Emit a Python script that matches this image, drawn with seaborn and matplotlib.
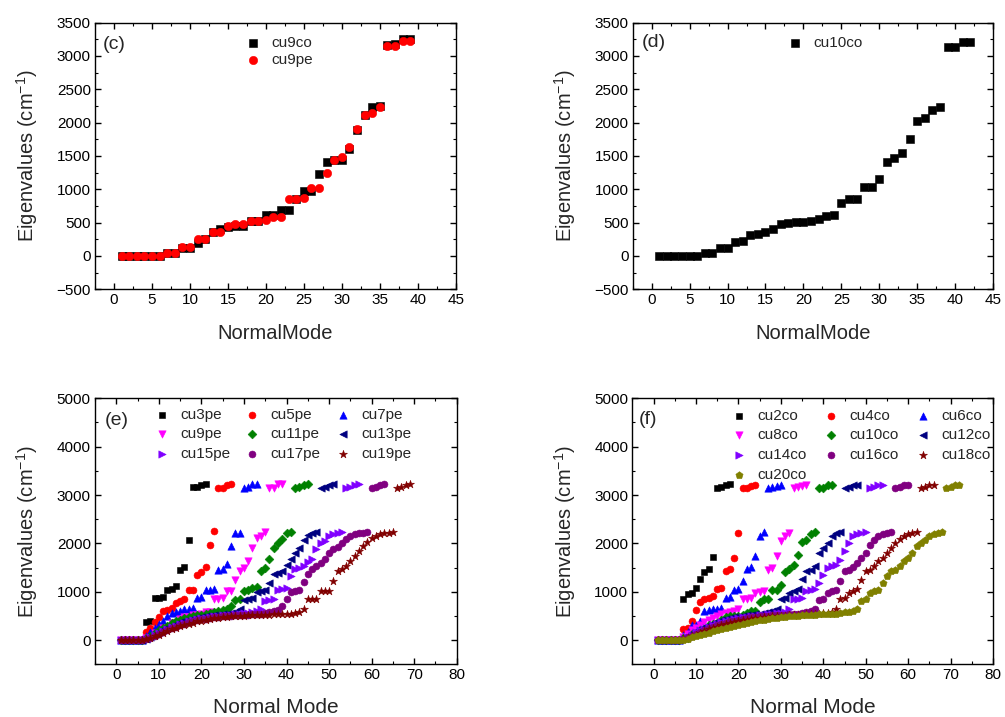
import matplotlib
matplotlib.use("Agg")
import matplotlib.pyplot as plt
import numpy as np
import pandas as pd
import seaborn as sns
from matplotlib.ticker import MultipleLocator

# ---------------- data (eigenvalues in cm^-1, indexed by normal mode 1..N) ----------------
cu9co = [0, 0, 0, 0, 0, 0, 40, 40, 125, 125, 200, 249, 364, 409, 439, 449, 449, 524, 524, 608,
         608, 688, 688, 858, 972, 972, 1232, 1406, 1436, 1436, 1605, 1885, 2109, 2234, 2254,
         3166, 3176, 3251, 3251]
cu9pe = [0, 0, 0, 0, 0, 0, 50, 50, 140, 140, 249, 249, 359, 359, 444, 474, 474, 524, 524, 534,
         588, 588, 848, 858, 868, 1022, 1022, 1242, 1436, 1481, 1630, 1910, 2109, 2149, 2234,
         3146, 3146, 3221, 3221]
cu10co = [0, 0, 0, 0, 0, 0, 50, 50, 120, 120, 214, 224, 314, 324, 364, 409, 474, 489, 509, 509,
          524, 558, 593, 608, 798, 858, 858, 1032, 1032, 1147, 1406, 1471, 1546, 1760, 2029,
          2064, 2194, 2229, 3141, 3141, 3216, 3216]

cu3pe = [0, 0, 0, 0, 0, 0, 380, 385, 865, 875, 885, 1040, 1060, 1115, 1460, 1515, 2060,
         3160, 3165, 3215, 3225]
cu5pe = [0, 0, 0, 0, 0, 0, 170, 250, 365, 480, 600, 615, 670, 760, 800, 860, 1035, 1040, 1340,
         1400, 1520, 1975, 2250, 3140, 3150, 3200, 3225]
cu7pe = [0, 0, 0, 0, 0, 0, 80, 160, 260, 330, 390, 500, 560, 580, 600, 640, 650, 660, 870, 890,
         1040, 1045, 1065, 1450, 1470, 1580, 1945, 2215, 2225, 3155, 3175, 3225, 3230]
cu11pe = [0, 0, 0, 0, 0, 0, 40, 90, 150, 200, 260, 300, 350, 390, 420, 450, 470, 490, 510, 520,
          540, 560, 580, 600, 620, 650, 710, 830, 850, 1015, 1035, 1085, 1100, 1430, 1500, 1670,
          1895, 2010, 2100, 2220, 2235, 3150, 3160, 3210, 3225]
cu13pe = [0, 0, 0, 0, 0, 0, 30, 70, 120, 170, 220, 260, 300, 340, 370, 400, 420, 440, 460, 480,
          490, 500, 510, 520, 535, 550, 565, 590, 640, 830, 845, 865, 985, 1015, 1040, 1190, 1360,
          1395, 1430, 1545, 1670, 1805, 1910, 2080, 2165, 2205, 2235, 3150, 3165, 3210, 3225]
cu15pe = [0, 0, 0, 0, 0, 0, 25, 60, 100, 150, 190, 230, 270, 300, 330, 360, 385, 410, 430, 450,
          465, 480, 490, 500, 510, 515, 525, 535, 545, 555, 565, 580, 600, 640, 810, 830, 860,
          1035, 1050, 1085, 1330, 1465, 1500, 1530, 1615, 1670, 1875, 2010, 2050, 2150, 2190,
          2210, 2228, 3150, 3160, 3205, 3220]
cu17pe = [0, 0, 0, 0, 0, 0, 20, 50, 90, 130, 170, 210, 245, 280, 310, 340, 365, 390, 410, 430,
          445, 460, 475, 485, 495, 500, 505, 510, 515, 520, 525, 530, 540, 550, 560, 580, 600,
          620, 710, 845, 985, 1020, 1040, 1200, 1375, 1465, 1530, 1600, 1670, 1805, 1875, 1930,
          2010, 2095, 2150, 2185, 2205, 2220, 2232, 3150, 3160, 3205, 3220]
cu19pe = [0, 0, 0, 0, 0, 0, 15, 40, 75, 110, 150, 185, 220, 255, 285, 310, 340, 360, 385, 405,
          420, 435, 450, 460, 470, 480, 490, 495, 500, 505, 510, 512, 515, 518, 520, 525, 530,
          535, 540, 545, 550, 560, 590, 640, 845, 850, 860, 1010, 1015, 1020, 1220, 1430, 1465,
          1530, 1635, 1740, 1840, 1945, 2030, 2110, 2150, 2190, 2210, 2225, 2232,
          3150, 3160, 3205, 3225]

cu2co = [0, 0, 0, 0, 0, 0, 840, 945, 980, 1070, 1255, 1405, 1480, 1715, 3155, 3170, 3205, 3235]
cu4co = [0, 0, 0, 0, 0, 0, 240, 260, 400, 620, 780, 845, 880, 910, 1050, 1085, 1430, 1475, 1700,
         2225, 3140, 3155, 3185, 3205]
cu6co = [0, 0, 0, 0, 0, 0, 100, 160, 310, 320, 400, 600, 620, 640, 650, 670, 880, 900, 1035,
         1050, 1220, 1475, 1515, 1735, 2150, 2245, 3150, 3165, 3195, 3205]
cu8co = [0, 0, 0, 0, 0, 0, 60, 120, 200, 260, 320, 380, 420, 460, 500, 540, 560, 580, 600, 640,
         840, 860, 880, 980, 995, 1015, 1445, 1495, 1735, 2050, 2150, 2210, 3145, 3160, 3195, 3210]
cu12co = [0, 0, 0, 0, 0, 0, 40, 90, 140, 190, 240, 280, 320, 350, 380, 410, 430, 450, 470, 485,
          500, 510, 520, 530, 540, 555, 575, 600, 640, 845, 880, 980, 1015, 1050, 1255, 1425,
          1460, 1530, 1800, 1900, 2010, 2160, 2215, 2230, 3145, 3160, 3200, 3215]
cu14co = [0, 0, 0, 0, 0, 0, 30, 70, 110, 160, 200, 240, 280, 310, 340, 370, 395, 420, 440, 455,
          470, 485, 495, 505, 515, 525, 535, 545, 555, 570, 590, 637, 842, 856, 877, 1014, 1034,
          1048, 1185, 1356, 1493, 1527, 1562, 1664, 1836, 2007, 2144, 2199, 2212, 2226,
          3145, 3160, 3200, 3215]
cu16co = [0, 0, 0, 0, 0, 0, 25, 55, 95, 135, 175, 210, 245, 280, 310, 335, 360, 385, 405, 425,
          440, 455, 470, 480, 490, 500, 505, 510, 515, 520, 525, 530, 540, 550, 560, 575, 600,
          637, 829, 842, 979, 1014, 1034, 1219, 1430, 1459, 1514, 1596, 1699, 1801, 1973, 2075,
          2150, 2199, 2212, 2226, 3145, 3160, 3200, 3215]
cu18co = [0, 0, 0, 0, 0, 0, 20, 45, 80, 115, 150, 185, 220, 250, 280, 305, 330, 355, 375, 395,
          410, 425, 440, 450, 460, 470, 480, 490, 495, 500, 505, 510, 515, 520, 525, 530, 535,
          540, 545, 555, 570, 590, 637, 842, 880, 979, 1014, 1048, 1253, 1420, 1459, 1527, 1630,
          1699, 1801, 1904, 2007, 2090, 2150, 2190, 2212, 2226, 3145, 3160, 3200, 3215]
cu20co = [0, 0, 0, 0, 0, 0, 10, 30, 55, 80, 105, 130, 155, 180, 205, 230, 255, 280, 300, 320,
          340, 360, 380, 395, 410, 425, 440, 455, 465, 475, 485, 495, 500, 505, 510, 515, 520,
          525, 530, 535, 540, 545, 550, 560, 575, 590, 603, 637, 808, 842, 979, 1014, 1034, 1185,
          1322, 1425, 1459, 1527, 1630, 1700, 1801, 1938, 2007, 2075, 2144, 2199, 2212, 2226,
          3145, 3160, 3200, 3215]

panel_c = [("cu9co", cu9co), ("cu9pe", cu9pe)]
panel_d = [("cu10co", cu10co)]
panel_e = [("cu3pe", cu3pe), ("cu5pe", cu5pe), ("cu7pe", cu7pe), ("cu9pe", cu9pe),
           ("cu11pe", cu11pe), ("cu13pe", cu13pe), ("cu15pe", cu15pe), ("cu17pe", cu17pe),
           ("cu19pe", cu19pe)]
panel_f = [("cu2co", cu2co), ("cu4co", cu4co), ("cu6co", cu6co), ("cu8co", cu8co),
           ("cu10co", cu10co), ("cu12co", cu12co), ("cu14co", cu14co), ("cu16co", cu16co),
           ("cu18co", cu18co), ("cu20co", cu20co)]

# ---------------- styles ----------------
colors = ["#000000", "#FF0000", "#0000FF", "#FF00FF", "#008000", "#000080",
          "#8000FF", "#800080", "#800000", "#808000"]
markers = ["s", "o", "^", "v", "D", "<", ">", "o", "*", "p"]
sizes_big = [28, 36]
sizes_small = [21, 25, 28, 28, 20, 28, 28, 25, 36, 30]

sns.set_theme(style="ticks")
plt.rcParams['font.family'] = ['Liberation Sans', 'DejaVu Sans']
plt.rcParams['mathtext.default'] = 'regular'

fig = plt.figure(figsize=(10.05, 7.17), dpi=100)
ax_c = fig.add_axes([0.0945, 0.5965, 0.359, 0.372])
ax_d = fig.add_axes([0.6296, 0.5965, 0.3585, 0.372])
ax_e = fig.add_axes([0.0945, 0.0735, 0.360, 0.371])
ax_f = fig.add_axes([0.6292, 0.0735, 0.3589, 0.371])


def draw(ax, series, sizes):
    for i, (name, vals) in enumerate(series):
        df = pd.DataFrame({"mode": np.arange(1, len(vals) + 1), "eig": vals})
        sns.scatterplot(data=df, x="mode", y="eig", ax=ax, color=colors[i], marker=markers[i],
                        s=sizes[i], edgecolor=colors[i], linewidth=0.4, label=name,
                        legend=False, zorder=3 + i)


def style(ax, top):
    for sp in ax.spines.values():
        sp.set_linewidth(1.0)
        sp.set_color("black")
        sp.set_visible(True)
    ax.tick_params(which="both", direction="in", top=True, right=True, colors="black",
                   labelsize=11, pad=3)
    ax.tick_params(which="major", length=4.5, width=1.0)
    ax.tick_params(which="minor", length=2.5, width=0.8)
    ax.set_ylabel("Eigenvalues (cm$^{-1}$)", fontsize=14.5, labelpad=12)
    if top:
        ax.set_xlim(-2.5, 45)
        ax.set_ylim(-500, 3500)
        ax.xaxis.set_major_locator(MultipleLocator(5))
        ax.xaxis.set_minor_locator(MultipleLocator(2.5))
        ax.yaxis.set_major_locator(MultipleLocator(500))
        ax.yaxis.set_minor_locator(MultipleLocator(250))
        ax.set_xlabel("NormalMode", fontsize=14.5, labelpad=12)
    else:
        ax.set_xlim(-5, 80)
        ax.set_ylim(-500, 5000)
        ax.set_xticks(np.arange(0, 81, 10))
        ax.set_yticks(np.arange(0, 5001, 1000))
        ax.xaxis.set_minor_locator(MultipleLocator(5))
        ax.yaxis.set_minor_locator(MultipleLocator(500))
        ax.set_xlabel("Normal Mode", fontsize=15, labelpad=11)
    ax.grid(False)


draw(ax_c, panel_c, sizes_big)
draw(ax_d, panel_d, sizes_big)
draw(ax_e, panel_e, sizes_small)
draw(ax_f, panel_f, sizes_small)
for ax in (ax_c, ax_d):
    style(ax, True)
for ax in (ax_e, ax_f):
    style(ax, False)

leg_kw = dict(frameon=False, fontsize=11, borderpad=0, handlelength=1.0, handletextpad=0.7,
              loc="upper left")
ax_c.legend(bbox_to_anchor=(0.395, 0.980), labelspacing=0.25, **leg_kw)
ax_d.legend(bbox_to_anchor=(0.409, 0.980), labelspacing=0.25, **leg_kw)

h, l = ax_e.get_legend_handles_labels()
order = [0, 3, 6, 1, 4, 7, 2, 5, 8]
ax_e.legend([h[k] for k in order], [l[k] for k in order], ncol=3, columnspacing=0.95,
            labelspacing=0.38, bbox_to_anchor=(0.142, 0.994), **leg_kw)
h, l = ax_f.get_legend_handles_labels()
order = [0, 3, 6, 9, 1, 4, 7, 2, 5, 8]
ax_f.legend([h[k] for k in order], [l[k] for k in order], ncol=3, columnspacing=1.1,
            labelspacing=0.38, bbox_to_anchor=(0.253, 0.990), **leg_kw)

for ax, lab, (x, y) in [(ax_c, "(c)", (0.022, 0.916)), (ax_d, "(d)", (0.025, 0.924)),
                        (ax_e, "(e)", (0.028, 0.918)), (ax_f, "(f)", (0.019, 0.922))]:
    ax.text(x, y, lab, transform=ax.transAxes, fontsize=14, ha="left", va="center")

fig.savefig("out.png", dpi=100)
